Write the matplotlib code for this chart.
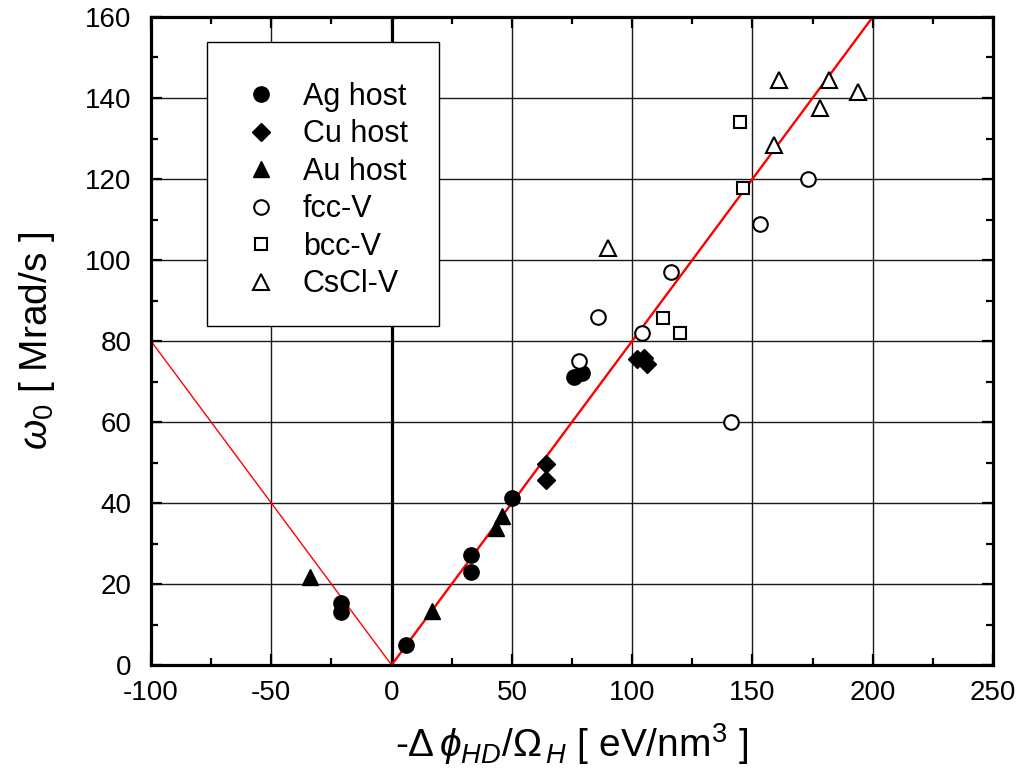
import matplotlib
matplotlib.use("Agg")
import matplotlib.pyplot as plt
from matplotlib.ticker import MultipleLocator
from matplotlib.patches import Rectangle

plt.rcParams['font.family'] = ['Liberation Sans', 'DejaVu Sans']
plt.rcParams['mathtext.fontset'] = 'custom'
plt.rcParams['mathtext.rm'] = 'Liberation Sans'
plt.rcParams['mathtext.it'] = 'Liberation Sans:italic'
plt.rcParams['mathtext.fallback'] = 'stixsans'
plt.rcParams['axes.unicode_minus'] = False

# ---- data ----
ag_x = [6, -21, -21, 33, 33, 50, 76, 79]
ag_y = [5, 15.2, 13.2, 27.2, 23, 41.2, 71, 72]

cu_x = [64, 64, 102, 105, 106]
cu_y = [49.6, 45.8, 75.5, 75.7, 74.3]

au_x = [-34, 17, 43.5, 46]
au_y = [21.8, 13.4, 33.8, 36.8]

fcc_x = [86, 104, 78, 141, 153, 173, 116]
fcc_y = [86, 82, 75, 60, 109, 120, 97]

bcc_x = [113, 120, 145, 146]
bcc_y = [85.8, 82, 134, 117.8]

cscl_x = [90, 159, 161, 178, 182, 194]
cscl_y = [103, 128.5, 144.5, 137.5, 144.5, 141.5]

fit_pos_x = [0, 200]
fit_pos_y = [0, 160]
fit_neg_x = [0, -100]
fit_neg_y = [0, 80]

fig = plt.figure(figsize=(10.23, 7.76), dpi=100)
ax = fig.add_axes([0.1476, 0.1430, 0.8231, 0.8351])

ax.set_xlim(-100, 250)
ax.set_ylim(0, 160)

# grid
for gx in [-50, 50, 100, 150, 200]:
    ax.axvline(gx, color='#1a1a1a', lw=1.0, zorder=1)
for gy in range(20, 160, 20):
    ax.axhline(gy, color='#1a1a1a', lw=1.0, zorder=1)
ax.axvline(0, color='black', lw=2.3, zorder=1.5)

# fit lines
ax.plot(fit_pos_x, fit_pos_y, color='#ff0000', lw=1.7, zorder=2)
ax.plot(fit_neg_x, fit_neg_y, color='#ff0000', lw=1.0, zorder=2)

ax.plot(ag_x, ag_y, 'o', color='black', ms=11, ls='none', label='Ag host', zorder=3)
ax.plot(cu_x, cu_y, 'D', color='black', ms=9.5, ls='none', label='Cu host', zorder=3)
ax.plot(au_x, au_y, '^', color='black', ms=12, ls='none', label='Au host', zorder=3)
ax.plot(fcc_x, fcc_y, 'o', mfc='white', mec='black', mew=1.5, ms=10.5, ls='none', label='fcc-V', zorder=3)
ax.plot(bcc_x, bcc_y, 's', mfc='white', mec='black', mew=1.5, ms=9, ls='none', label='bcc-V', zorder=3)
ax.plot(cscl_x, cscl_y, '^', mfc='white', mec='black', mew=1.5, ms=12, ls='none', label='CsCl-V', zorder=3)

ax.xaxis.set_major_locator(MultipleLocator(50))
ax.xaxis.set_minor_locator(MultipleLocator(25))
ax.yaxis.set_major_locator(MultipleLocator(20))
ax.yaxis.set_minor_locator(MultipleLocator(10))
ax.tick_params(which='both', direction='in', top=True, right=True, width=1.6)
ax.tick_params(which='major', length=8, labelsize=20)
ax.tick_params(axis='x', which='major', pad=11)
ax.tick_params(axis='y', which='major', pad=14)
ax.tick_params(which='minor', length=5)
for s in ax.spines.values():
    s.set_linewidth(2.3)

ax.set_xlabel(r'-$\Delta\,\phi_{HD}/\Omega_{\,H}$ [ eV/nm$^3$ ]', fontsize=28, labelpad=11)
ax.set_ylabel(r'$\omega_0$ [ Mrad/s ]', fontsize=28, labelpad=20)

# legend box
box = Rectangle((0.0665, 0.523), 0.2755, 0.438, transform=ax.transAxes,
                facecolor='white', edgecolor='black', lw=1.0, zorder=4)
ax.add_patch(box)

leg = ax.legend(loc='upper left', bbox_to_anchor=(0.1057, 0.9), borderaxespad=0,
                fontsize=22, frameon=False, borderpad=0, labelspacing=0.245,
                handlelength=1.4, handletextpad=0.66, numpoints=1)
leg.set_zorder(5)

fig.savefig('out.png', dpi=100)
